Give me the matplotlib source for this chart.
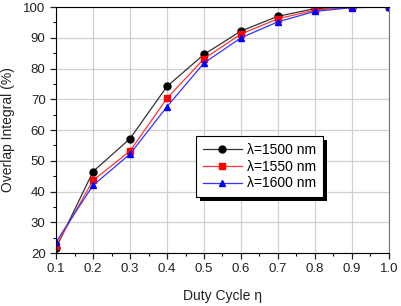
import numpy as np
import matplotlib.pyplot as plt
from matplotlib.patches import Rectangle

plt.rcParams['font.family'] = ['Liberation Sans', 'DejaVu Sans']

duty = [0.1, 0.2, 0.3, 0.4, 0.5, 0.6, 0.7, 0.8, 0.9, 1.0]
ov_1500 = [21.6, 46.5, 57.2, 74.2, 84.6, 92.2, 97.0, 99.5, 100.0, 100.0]
ov_1550 = [22.4, 43.6, 53.2, 70.3, 83.2, 91.2, 96.2, 99.0, 100.0, 100.0]
ov_1600 = [23.6, 42.0, 52.2, 67.6, 81.8, 90.0, 95.2, 98.6, 99.8, 100.0]

fig = plt.figure(figsize=(4.01, 3.06), dpi=100)
ax = fig.add_axes([0.1397, 0.173, 0.8303, 0.804])

ax.plot(duty, ov_1500, color='#333333', lw=0.9, marker='o', ms=5, mfc='black', mec='black', label='λ=1500 nm')
ax.plot(duty, ov_1550, color='#ff3333', lw=0.9, marker='s', ms=5, mfc='red', mec='red', label='λ=1550 nm')
ax.plot(duty, ov_1600, color='#3333ff', lw=0.9, marker='^', ms=5, mfc='blue', mec='blue', label='λ=1600 nm')

ax.set_xlim(0.1, 1.0)
ax.set_ylim(20, 100)
ax.set_xticks(np.arange(0.1, 1.01, 0.1))
ax.set_xticks(np.arange(0.15, 1.0, 0.1), minor=True)
ax.set_yticks(np.arange(20, 101, 10))
ax.set_yticks(np.arange(25, 100, 10), minor=True)
ax.grid(True, color='#d0d0d0', lw=0.9)
ax.set_axisbelow(True)
ax.tick_params(labelsize=9.5, length=4, width=0.9, colors='#222222')
ax.tick_params(which='minor', length=2.5, width=0.8)
ax.set_xlabel('Duty Cycle η', fontsize=10, color='#222222', labelpad=10)
ax.set_ylabel('Overlap Integral (%)', fontsize=10, color='#222222', labelpad=6)
ax.spines['right'].set_color('#777777')

leg = ax.legend(loc='upper left', bbox_to_anchor=(0.42, 0.476), fontsize=10, frameon=True,
                fancybox=False, edgecolor='black', framealpha=1, borderpad=0.5,
                labelspacing=0.2, handlelength=2.8, handletextpad=0.4, borderaxespad=0)
leg.get_frame().set_linewidth(0.8)
leg.set_zorder(5)

# solid drop shadow behind the legend box
fig.canvas.draw()
bb = leg.get_window_extent().transformed(fig.transFigure.inverted())
dx, dy = 4 / 401, -4 / 306
shadow = Rectangle((bb.x0 + dx, bb.y0 + dy), bb.width, bb.height, transform=fig.transFigure,
                   facecolor='black', edgecolor='none', zorder=4)
ax.add_artist(shadow)
shadow.set_clip_on(False)

plt.savefig('out.png', dpi=100)
